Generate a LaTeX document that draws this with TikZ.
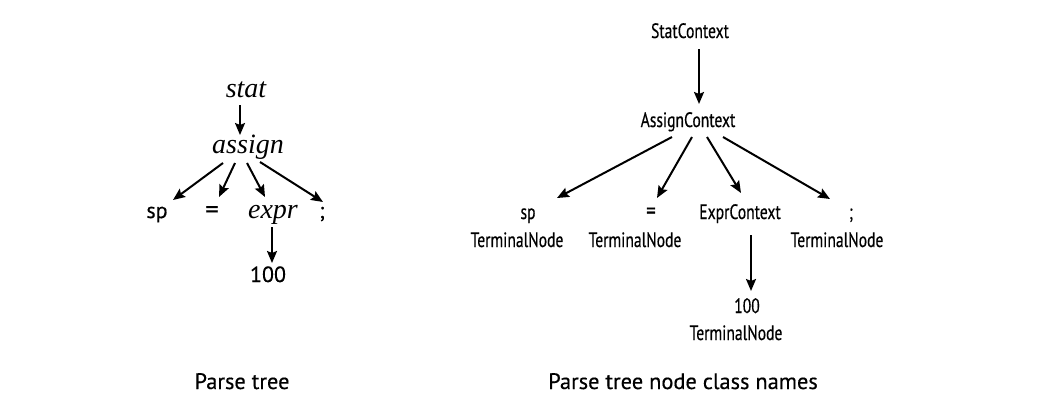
\documentclass[tikz,border=0pt]{standalone}
\usepackage{fontspec}
\setmainfont[FakeBold=0.4]{PT Sans}
\newfontfamily\condfont[FakeStretch=0.75,FakeBold=0.4]{PT Sans}
\newfontfamily\serifit{Liberation Serif}
\usepackage{tikz}
\usetikzlibrary{arrows.meta,positioning}
\tikzstyle{arrow} = [line width=1pt,-{Stealth[length=6pt,width=5pt,inset=1pt]}]
\tikzstyle{rule} = [anchor=base, inner sep=0pt, font=\serifit\itshape\fontsize{14}{16}\selectfont]
\tikzstyle{token} = [anchor=base, inner sep=0pt, font=\fontsize{11}{13}\selectfont]
\tikzstyle{ctx} = [anchor=base, inner sep=0pt, font=\condfont\fontsize{10.4}{12}\selectfont]
\tikzstyle{caption} = [anchor=base, inner sep=0pt, font=\fontsize{11.2}{13}\selectfont]

\begin{document}
\begin{tikzpicture}[x=0.5pt, y=-0.5pt]
\useasboundingbox[fill=white] (0,0) rectangle (1063,407);

% Parse tree
\node (stat) [rule] at (246,97) {stat};
\node (assign) [rule] at (248,153) {assign};
\node (sp) [token] at (157,218) {sp};
\node (eq) [token, font=\fontsize{13}{15}\selectfont] at (212,218) {=};
\node (expr) [rule] at (273,218) {expr};
\node (semi) [token] at (322,218) {;};
\node (hundred) [token] at (268,282) {100};

\draw[arrow] ([shift={(-6,8)}]stat.base) -- ([shift={(-8,-18)}]assign.base);
\draw[arrow] ([shift={(-25,10)}]assign.base) -- ([shift={(16,-18)}]sp.base);
\draw[arrow] ([shift={(-13,10)}]assign.base) -- ([shift={(7,-21)}]eq.base);
\draw[arrow] ([shift={(-1,10)}]assign.base) -- ([shift={(-8,-21)}]expr.base);
\draw[arrow] ([shift={(12,9)}]assign.base) -- ([shift={(1,-16)}]semi.base);
\draw[arrow] ([shift={(-1,9)}]expr.base) -- ([shift={(4,-19)}]hundred.base);

% Node class names
\node (statctx) [ctx] at (690,38) {StatContext};
\node (assignctx) [ctx] at (688,127) {AssignContext};
\node (sptok) [ctx] at (528,219) {sp};
\node (spterm) [ctx] at (517,247) {TerminalNode};
\node (eqtok) [ctx, font=\condfont\fontsize{12.5}{14}\selectfont] at (651,219) {=};
\node (eqterm) [ctx] at (635,247) {TerminalNode};
\node (exprctx) [ctx] at (740,219) {ExprContext};
\node (semitok) [ctx] at (851,219) {;};
\node (semiterm) [ctx] at (837,247) {TerminalNode};
\node (numtok) [ctx] at (747,313) {100};
\node (numterm) [ctx] at (736,340) {TerminalNode};

\draw[arrow] ([shift={(9,11)}]statctx.base) -- ([shift={(11,-23)}]assignctx.base);
\draw[arrow] ([shift={(-16,10)}]assignctx.base) -- ([shift={(29,-21)}]sptok.base);
\draw[arrow] ([shift={(4,10)}]assignctx.base) -- ([shift={(6,-21)}]eqtok.base);
\draw[arrow] ([shift={(19,10)}]assignctx.base) -- ([shift={(1,-26)}]exprctx.base);
\draw[arrow] ([shift={(35,10)}]assignctx.base) -- ([shift={(-21,-20)}]semitok.base);
\draw[arrow] ([shift={(11,16)}]exprctx.base) -- ([shift={(4,-22)}]numtok.base);

% Captions
\node (cap1) [caption] at (242,389) {Parse tree};
\node (cap2) [caption] at (683,389) {Parse tree node class names};
\end{tikzpicture}
\end{document}
